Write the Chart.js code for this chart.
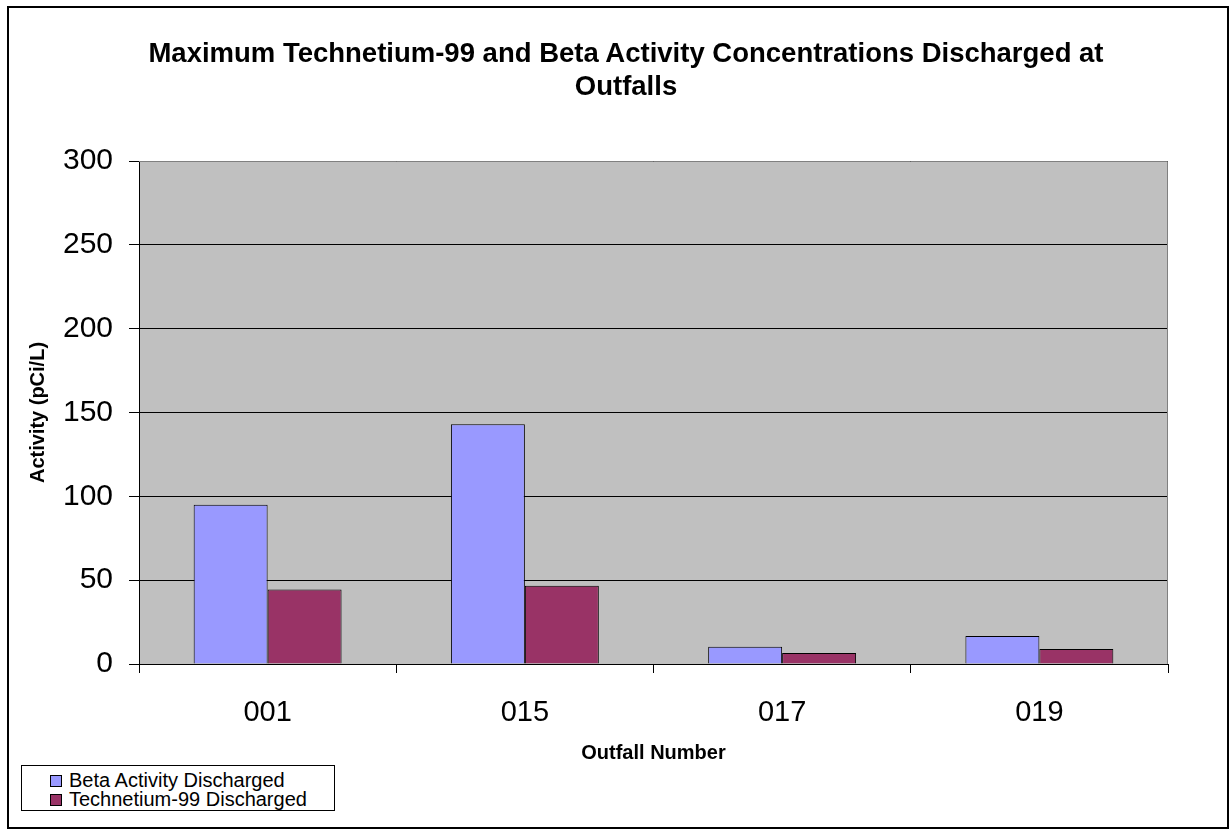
<!DOCTYPE html>
<html>
<head>
<meta charset="utf-8">
<script src="https://cdn.jsdelivr.net/npm/chart.js@4"></script>
<style>
  body { margin: 0; background: #fff; }
  #wrap { position: relative; width: 1231px; height: 831px; overflow: hidden; }
  #frame {
    position: absolute; left: 7px; top: 6px; width: 1218px; height: 819px;
    border: 2px solid #000; pointer-events: none;
  }
  #title {
    position: absolute; left: 0; top: 36px; width: 1252px; text-align: center;
    font-family: "Liberation Sans", Arial, sans-serif; font-weight: bold;
    font-size: 27.5px; line-height: 33px; color: #000;
  }
  #legend {
    position: absolute; left: 21px; top: 765px;
    border: 1px solid #000; background: #fff;
    font-family: "Liberation Sans", Arial, sans-serif; font-size: 20px; line-height: 19px;
    padding-top: 5px; box-sizing: border-box; height: 46px; width: 314px;
  }
  #legend div { padding-left: 28px; white-space: nowrap; }
  #legend span {
    display: inline-block; width: 10px; height: 10px; border: 1px solid #000;
    margin-right: 7px; vertical-align: 0px;
  }
</style>
</head>
<body>
<div id="wrap">
  <canvas id="chart" width="1231" height="831"></canvas>
  <div id="frame"></div>
  <div id="title">Maximum Technetium-99 and Beta Activity Concentrations Discharged at<br>Outfalls</div>
  <div id="legend"></div>
</div>
<script>
// outfall data (pCi/L)
const outfalls = ["001", "015", "017", "019"];
const betaValues = [95, 143, 10.3, 16.7];
const tcValues = [44.5, 46.7, 6.5, 9];
const yTicks = [0, 50, 100, 150, 200, 250, 300];

const seriesNames = ["Beta Activity Discharged", "Technetium-99 Discharged"];
const seriesColors = ["#9999FF", "#993366"];

const font = "'Liberation Sans', Arial, sans-serif";

// gray plot area behind the bars
const plotBg = {
  id: 'plotBg',
  beforeDraw(chart) {
    const a = chart.chartArea;
    const ctx = chart.ctx;
    ctx.save();
    ctx.fillStyle = '#C0C0C0';
    ctx.fillRect(a.left, a.top, a.right - a.left, a.bottom - a.top);
    ctx.restore();
  },
  afterDatasetsDraw(chart) {
    const a = chart.chartArea;
    const ctx = chart.ctx;
    ctx.save();
    ctx.strokeStyle = '#808080';
    ctx.lineWidth = 1;
    ctx.beginPath();
    ctx.moveTo(a.left, a.top + 0.5);
    ctx.lineTo(a.right - 0.5, a.top + 0.5);
    ctx.lineTo(a.right - 0.5, a.bottom);
    ctx.stroke();
    ctx.restore();
  }
};

new Chart(document.getElementById('chart'), {
  type: 'bar',
  data: {
    labels: outfalls,
    datasets: [
      { label: seriesNames[0], data: betaValues, backgroundColor: seriesColors[0] },
      { label: seriesNames[1], data: tcValues, backgroundColor: seriesColors[1] }
    ]
  },
  options: {
    responsive: false,
    animation: false,
    layout: { padding: { left: 0, right: 63, top: 161, bottom: 0 } },
    datasets: {
      bar: { categoryPercentage: 0.575, barPercentage: 1, borderColor: '#000', borderWidth: 1 }
    },
    plugins: {
      legend: { display: false },
      tooltip: { enabled: false },
      title: { display: false }
    },
    scales: {
      x: {
        afterFit(scale) { scale.height = 167; },
        grid: { offset: true, drawOnChartArea: false, color: '#000', tickLength: 9 },
        border: { color: '#000' },
        ticks: { color: '#000', font: { family: font, size: 29 }, padding: 23 },
        title: {
          display: true, text: 'Outfall Number', color: '#000',
          font: { family: font, size: 20, weight: 'bold' }, padding: { bottom: 66 }
        }
      },
      y: {
        min: 0, max: 300,
        afterFit(scale) { scale.width = 139; },
        afterBuildTicks(scale) { scale.ticks = yTicks.map(v => ({ value: v })); },
        grid: { color: '#000', tickLength: 10 },
        border: { color: '#000' },
        ticks: { color: '#000', font: { family: font, size: 30 }, padding: 16 },
        title: {
          display: true, text: 'Activity (pCi/L)', color: '#000',
          font: { family: font, size: 20, weight: 'bold' }, padding: { top: 26 }
        }
      }
    }
  },
  plugins: [plotBg]
});

// legend box, bottom left
const legend = document.getElementById('legend');
seriesNames.forEach((name, i) => {
  const row = document.createElement('div');
  row.innerHTML = '<span style="background:' + seriesColors[i] + '"></span>' + name;
  legend.appendChild(row);
});
</script>
</body>
</html>
